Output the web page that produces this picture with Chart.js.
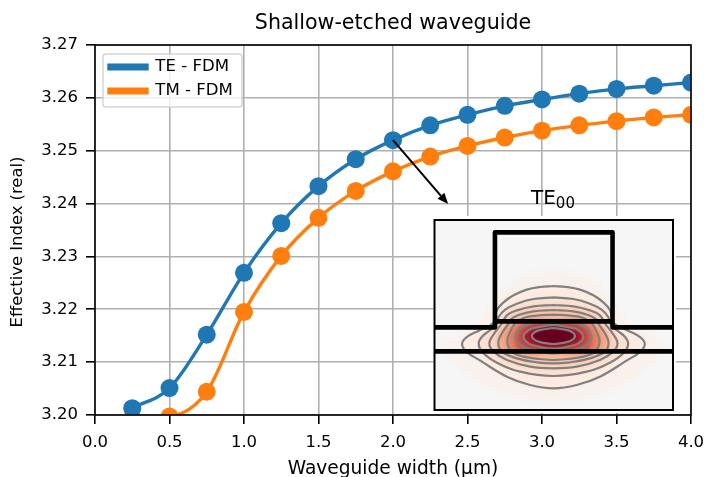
<!DOCTYPE html>
<html><head><meta charset="utf-8">
<script src="https://cdn.jsdelivr.net/npm/chart.js@4"></script>
<style>
html,body{margin:0;padding:0;background:#fff;overflow:hidden}
#wrap{position:relative;width:706px;height:477px}
#main{position:absolute;left:0;top:0}
#inset{position:absolute;left:433px;top:216px}
</style></head><body>
<div id="wrap"><canvas id="main" width="706" height="477"></canvas><canvas id="inset" width="243" height="197"></canvas></div>
<script>
const chartTitle = 'Shallow-etched waveguide';
const xLabel = 'Waveguide width (µm)';
const yLabel = 'Effective Index (real)';
const insetTitle = 'TE';
const insetSub = '00';
const widths = [0.25,0.5,0.75,1.0,1.25,1.5,1.75,2.0,2.25,2.5,2.75,3.0,3.25,3.5,3.75,4.0];
const teValues = [3.2013,3.2051,3.2152,3.2269,3.2363,3.2433,3.2484,3.2520,3.2548,3.2568,3.2585,3.2597,3.2608,3.2617,3.2623,3.2629];
const tmValues = [3.1994,3.1997,3.2044,3.2195,3.2301,3.2373,3.2424,3.2461,3.2489,3.2509,3.2525,3.2538,3.2548,3.2556,3.2563,3.2568];
const xTicks = [0,0.5,1,1.5,2,2.5,3,3.5,4];
const yTicks = [3.20,3.21,3.22,3.23,3.24,3.25,3.26,3.27];
const arrowFrom = [2.0,3.252];
const arrowTo = [2.37,3.2399];

// inset: half outlines [offset from centre, depth], mirrored when plotted
const contour1 = [[0,318],[40,321],[80,329],[120,346],[150,367],[170,390],[182,430],[225,452],[262,472],[275,492],[262,515],[220,542],[140,590],[70,615],[0,625]];
const contour2 = [[0,352],[60,357],[110,371],[145,389],[165,411],[170,430],[190,450],[215,470],[225,490],[215,515],[170,548],[100,575],[0,588]];
const contour3 = [[0,375],[60,379],[110,391],[140,406],[155,430],[178,460],[193,490],[180,515],[140,540],[70,560],[0,565]];
const contour4 = [[0,390],[60,394],[105,405],[130,419],[135,430],[155,460],[166,488],[155,515],[110,535],[50,547],[0,550]];
const contour5 = [[0,404],[50,407],[90,414],[115,430],[130,455],[139,485],[125,515],[90,530],[40,537],[0,540]];
const contour6 = [[0,420],[80,434],[105,450],[115,472],[105,490],[80,506],[0,520]];
const contour7 = [[0,434],[65,445],[85,458],[90,470],[85,482],[65,495],[0,506]];
const contour8 = [[0,444],[45,451],[60,459],[65,468],[60,477],[45,485],[0,492]];
const halo = [[0,270],[100,290],[170,350],[230,430],[300,470],[335,500],[300,550],[180,630],[0,665]];
const core0 = [[0,428],[125,428],[155,450],[166,485],[150,512],[0,512]];
const core1 = [[0,428],[100,428],[130,450],[139,485],[125,512],[0,512]];
const core2 = [[0,428],[85,428],[112,470],[100,510],[0,512]];
const core3 = [[0,448],[40,452],[60,468],[40,486],[0,490]];
const ridge = [[-358,442],[-176,442],[-176,157],[178,157],[178,442],[360,442]];
const interfaceLine = [[-176,424],[178,424]];
const lowerLine = [[-358,514],[360,514]];

const BLUE='#1f77b4', ORANGE='#ff7f0e', FONT='"DejaVu Sans"';
const toPts = a => a.map(p=>({x:p[0],y:p[1]}));
const closed = h => toPts(h.concat(h.slice(0,-1).reverse().map(p=>[-p[0],p[1]])));

function series(label,vals,color){
  return {label,data:widths.map((w,i)=>({x:w,y:vals[i]})),borderColor:color,backgroundColor:color,
    borderWidth:3.4,pointRadius:9,pointHoverRadius:9,pointBackgroundColor:color,pointBorderWidth:0,
    cubicInterpolationMode:'monotone',clip:0,showLine:true};
}
const frame={id:'frame',
 beforeDraw(c){const L=c.legend,a=c.chartArea;
   const w=L.right-L.left,h=L.bottom-L.top;
   L.left=a.left+6.6;L.right=L.left+w;L.top=a.top+6.3;L.bottom=L.top+h;},
 afterDatasetsDraw(c){
  const g=c.ctx,a=c.chartArea,xs=c.scales.x,ys=c.scales.y;
  g.save();g.strokeStyle='#000';g.lineWidth=1.6;g.strokeRect(a.left,a.top,a.width,a.height);
  const x0=xs.getPixelForValue(arrowFrom[0]),y0=ys.getPixelForValue(arrowFrom[1]);
  const x1=xs.getPixelForValue(arrowTo[0]),y1=ys.getPixelForValue(arrowTo[1]);
  const t=Math.atan2(y1-y0,x1-x0),L=11,W=4.5;
  const bx=x1-L*Math.cos(t),by=y1-L*Math.sin(t);
  g.lineWidth=2;g.beginPath();g.moveTo(x0,y0);g.lineTo(bx,by);g.stroke();
  g.fillStyle='#000';g.beginPath();g.moveTo(x1,y1);
  g.lineTo(bx-W*Math.sin(t),by+W*Math.cos(t));g.lineTo(bx+W*Math.sin(t),by-W*Math.cos(t));g.closePath();g.fill();
  g.textBaseline='alphabetic';g.textAlign='left';
  g.font='20px '+FONT;g.fillText(insetTitle,531,204);
  const w=g.measureText(insetTitle).width;
  g.font='15px '+FONT;g.fillText(insetSub,531+w,208);
  g.restore();
  // y axis label, which sits a little below the middle of the axis
  g.save();g.font='16.4px '+FONT;g.fillStyle='#000';g.textAlign='center';g.textBaseline='middle';
  g.translate(18,242);g.rotate(-Math.PI/2);g.fillText(yLabel,0,0);g.restore();
}};
const legendBack={id:'legendBack',beforeInit(c){
  const item={position:'chartArea',weight:-1,fullSize:false,z:-0.5,options:{},isHorizontal(){return false},update(){},
    _layers(){return [{z:-0.5,draw(){
      const a=c.chartArea,g=c.ctx;g.save();
      g.beginPath();g.roundRect(a.left+8,a.top+9,139,53,3);
      g.fillStyle='rgba(255,255,255,0.8)';g.fill();
      g.strokeStyle='rgba(204,204,204,0.8)';g.lineWidth=1.5;g.stroke();g.restore();
    }}]}};
  Chart.layouts.addBox(c,item);
}};
const noMargins=s=>{s.paddingLeft=s.paddingRight=s.paddingTop=s.paddingBottom=0;};
new Chart(document.getElementById('main'),{
  type:'scatter',
  data:{datasets:[series('TE - FDM',teValues,BLUE),series('TM - FDM',tmValues,ORANGE)]},
  plugins:[legendBack,frame],
  options:{
    responsive:false,animation:false,events:[],
    layout:{padding:{left:0,right:15,top:0,bottom:0},autoPadding:false},
    plugins:{
      tooltip:{enabled:false},
      title:{display:true,text:chartTitle,color:'#000',font:{family:FONT,size:20.6,weight:'normal'},padding:{top:11,bottom:9.3},fullSize:false},
      legend:{position:'chartArea',align:'start',labels:{color:'#000',font:{family:FONT,size:16.6},boxWidth:38,boxHeight:3.4,padding:7.4}}
    },
    scales:{
      x:{type:'linear',min:0,max:4,title:{display:true,text:xLabel,color:'#000',font:{family:FONT,size:18.6},padding:{top:0,bottom:-3}},
        afterFit(s){s.height=62;noMargins(s);},afterBuildTicks(s){s.ticks=xTicks.map(v=>({value:v}))},
        grid:{color:'#b0b0b0',lineWidth:1.6,tickColor:'#000',tickWidth:1.6,tickLength:9},border:{display:false},
        ticks:{color:'#000',font:{family:FONT,size:16.5},padding:9,maxRotation:0,callback:v=>v.toFixed(1)}},
      y:{type:'linear',min:3.2,max:3.27,
        afterFit(s){s.width=95;noMargins(s);},afterBuildTicks(s){s.ticks=yTicks.map(v=>({value:v}))},
        grid:{color:'#b0b0b0',lineWidth:1.6,tickColor:'#000',tickWidth:1.6,tickLength:9},border:{display:false},
        ticks:{color:'#000',font:{family:FONT,size:16.5},padding:8,callback:v=>v.toFixed(2)}}
    }
  }
});

// inset field
const fillLevels=[[core3,'#67001f'],[contour8,'#7a0424'],[contour7,'#a81529'],[core2,'#cb4a42'],[core1,'#e67c5e'],[core0,'#f4a582'],
  [contour5,'#f7b799'],[contour4,'#f9c4a9'],[contour3,'#fbd3bd'],[contour2,'#fce0d0'],[contour1,'#fdebe1'],[halo,'#f9f1ec']];
const lineSets=[contour8,contour7,contour6,contour5,contour4,contour3,contour2,contour1];
const black=d=>({data:toPts(d),borderColor:'#000',borderWidth:4.6,showLine:true,pointRadius:0,borderJoinStyle:'round',borderCapStyle:'butt',fill:false});
const insetSets=[black(ridge),black(interfaceLine),black(lowerLine)]
  .concat(lineSets.map(h=>({data:closed(h),borderColor:'#808080',borderWidth:2.2,showLine:true,pointRadius:0,tension:0.4,fill:false})))
  .concat(fillLevels.map(f=>({data:closed(f[0]),borderWidth:0,borderColor:'rgba(0,0,0,0)',backgroundColor:f[1],showLine:true,pointRadius:0,tension:0.4,fill:'shape'})));
const firstFill=3+lineSets.length;
const insetFrame={id:'insetFrame',
  beforeDraw(c){const g=c.ctx,a=c.chartArea;g.fillStyle='#fff';g.fillRect(0,0,c.width,c.height);
    g.fillStyle='#f6f6f6';g.fillRect(a.left,a.top,a.width,a.height);g.filter='blur(2px)';},
  afterDatasetDraw(c,args){if(args.index===firstFill)c.ctx.filter='none';},
  afterDatasetsDraw(c){const g=c.ctx,a=c.chartArea;g.save();g.filter='none';g.strokeStyle='#000';g.lineWidth=2;g.strokeRect(a.left,a.top,a.width,a.height);g.restore();}
};
new Chart(document.getElementById('inset'),{
  type:'scatter',data:{datasets:insetSets},plugins:[insetFrame],
  options:{responsive:false,animation:false,events:[],
    layout:{padding:{left:1.5,right:3,top:4,bottom:3},autoPadding:false},
    plugins:{legend:{display:false},tooltip:{enabled:false},title:{display:false}},
    scales:{x:{type:'linear',min:-358,max:360,display:false},y:{type:'linear',min:120,max:690,reverse:true,display:false}}}
});
</script></body></html>
